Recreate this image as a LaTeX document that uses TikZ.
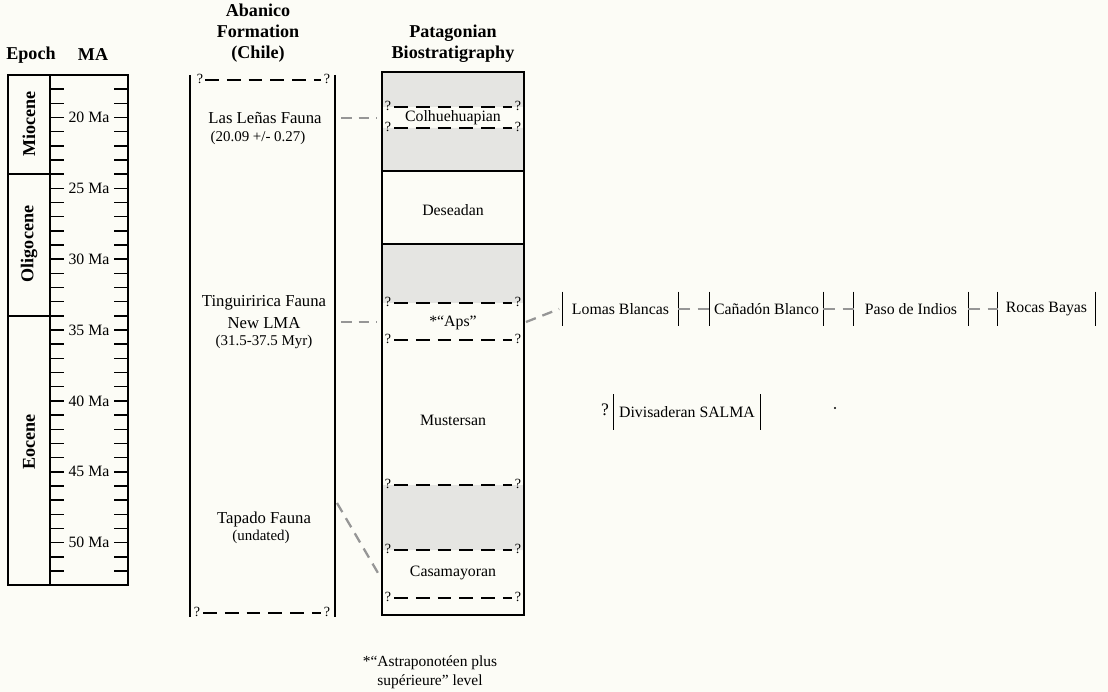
\documentclass[tikz,border=0pt]{standalone}
\usepackage{fontspec}
\setmainfont{Liberation Serif}
\definecolor{paper}{RGB}{252,252,246}
\definecolor{band}{RGB}{229,229,226}
\definecolor{linkgray}{RGB}{150,150,150}
\tikzset{
  frame/.style={line width=0.9pt},
  tick/.style={line width=0.85pt},
  qline/.style={line width=0.85pt, dash pattern=on 7.9pt off 4.5pt},
  qmark/.style={font=\fontsize{8}{9}\selectfont, inner sep=0pt},
  link/.style={draw=linkgray, line width=1.3pt, dash pattern=on 6pt off 4pt},
  chainlink/.style={draw=linkgray, line width=1pt, dash pattern=on 6.5pt off 4.5pt},
  head/.style={font=\fontsize{10.3}{12}\selectfont\bfseries, align=center, inner sep=1pt},
  lbl/.style={font=\fontsize{9}{11}\selectfont, inner sep=1pt, align=center},
  fauna/.style={font=\fontsize{9.5}{11}\selectfont, inner sep=1pt},
  sub/.style={font=\fontsize{8.5}{10}\selectfont, inner sep=1pt},
  unit/.style={font=\fontsize{9}{11}\selectfont, inner sep=0pt, minimum height=0.68cm},
}
\begin{document}
\begin{tikzpicture}[x=0.02cm, y=-0.02cm]
  \fill[paper] (0,0) rectangle (1108,692);
  \useasboundingbox (0,0) rectangle (1108,692);
  \node[head] (epochhd) at (31,55) {Epoch};
  \node[head] (mahd) at (93,55) {MA};
  \node[head] (abanicohd) at (258,33) {Abanico\\Formation\\(Chile)};
  \node[head] (pathd) at (453,44) {Patagonian\\Biostratigraphy};
  % time scale
  \draw[frame] (8,75) rectangle (128,585);
  \draw[frame] (50,75) -- (50,585) (8,174) -- (50,174) (8,316) -- (50,316);
  \foreach \m in {18,...,52} {
    \pgfmathsetmacro\yy{75+(\m-17)*14.17}
    \draw[tick] (50,\yy) -- (64,\yy) (128,\yy) -- (114,\yy);
  }
  \foreach \m in {20,25,...,50}
    \node[lbl] (ma\m) at (89,{75+(\m-17)*14.17}) {\m~Ma};
  \node[head, rotate=90] (mio) at (29,124) {Miocene};
  \node[head, rotate=90] (oli) at (29,244) {Oligocene};
  \node[head, rotate=90] (eoc) at (29,442) {Eocene};
  % Abanico
  \draw[frame] (190,75) -- (190,617) (335,75) -- (335,617);
  \draw[qline] (205,80) -- (321,80) (203,613) -- (321,613);
  \node[qmark] (abq1) at (200,79) {?};
  \node[qmark] (abq2) at (327,79) {?};
  \node[qmark] (abq3) at (197,612) {?};
  \node[qmark] (abq4) at (327,612) {?};
  \node[fauna] (lenas) at (265,118) {Las Leñas Fauna};
  \node[sub] (lenasage) at (258,138) {(20.09 +/- 0.27)};
  \node[fauna] (tingui) at (264,303) {Tinguiririca Fauna};
  \node[fauna] (newlma) at (264,323) {New LMA};
  \node[sub] (tinguiage) at (264,342) {(31.5-37.5 Myr)};
  \node[fauna] (tapado) at (264,519) {Tapado Fauna};
  \node[sub] (tapadoage) at (261,537) {(undated)};
  % Patagonian column
  \fill[band] (382,72) rectangle (524,107) (382,128) rectangle (524,171)
    (382,244) rectangle (524,303) (382,485) rectangle (524,550);
  \draw[frame] (382,171) -- (524,171) (382,244) -- (524,244);
  \foreach \y in {107,128,303,340,485,550,598} {
    \draw[qline] (394,\y) -- (512,\y);
    \node[qmark] (pqa\y) at (388,\y-1) {?};
    \node[qmark] (pqb\y) at (518,\y-1) {?};
  }
  \draw[frame] (382,72) rectangle (524,615);
  \node[lbl] (colhue) at (453,118) {Colhuehuapian};
  \node[lbl] (deseadan) at (453,210) {Deseadan};
  \node[lbl] (aps) at (453,323) {*“Aps”};
  \node[lbl] (mustersan) at (453,420) {Mustersan};
  \node[lbl] (casamayor) at (453,573) {Casamayoran};
  % correlations
  \coordinate (lenasR) at (341,118);
  \coordinate (colhueL) at (377,118);
  \coordinate (tinguiR) at (341,322);
  \coordinate (apsL) at (377,322);
  \coordinate (tapadoR) at (337,503);
  \coordinate (casaL) at (378,573);
  \coordinate (apsR) at (526,322);
  \draw[link] (lenasR) -- (colhueL);
  \draw[link] (tinguiR) -- (apsL);
  \draw[link] (tapadoR) -- (casaL);
  % local faunas
  \node[unit, minimum width=2.3cm] (lomas) at (620.5,309) {Lomas Blancas};
  \node[unit, minimum width=2.26cm] (canadon) at (766.5,309) {Cañadón Blanco};
  \node[unit, minimum width=2.28cm] (paso) at (911,309) {Paso de Indios};
  \node[unit, minimum width=1.94cm] (rocas) at (1046.5,309) {Rocas Bayas};
  \node[unit, minimum width=2.92cm, minimum height=0.7cm] (divis) at (687,412) {Divisaderan SALMA};
  \node[font=\fontsize{10}{12}\selectfont, inner sep=0pt] (divisq) at (605,410) {?};
  \foreach \n in {lomas,canadon,paso,rocas,divis}
    \draw[frame] (\n.north west) -- (\n.south west) (\n.north east) -- (\n.south east);
  \draw[link] (apsR) -- ([xshift=-2pt]lomas.west);
  \draw[chainlink] (lomas.east) -- (canadon.west);
  \draw[chainlink] (canadon.east) -- (paso.west);
  \draw[chainlink] (paso.east) -- (rocas.west);
  \fill (835,408) circle[radius=0.7pt];
  \node[font=\fontsize{8.8}{10.8}\selectfont, align=center] (footnote) at (430,672)
    {*“Astraponotéen plus\\supérieure” level};
\end{tikzpicture}
\end{document}
